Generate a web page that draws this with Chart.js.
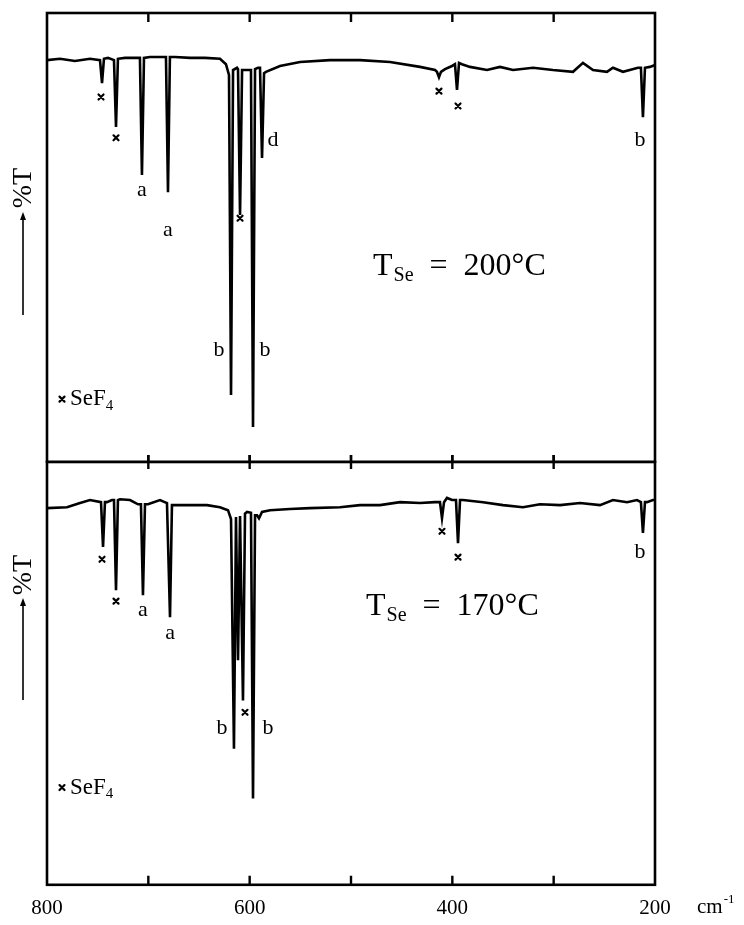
<!DOCTYPE html>
<html><head><meta charset="utf-8">
<script src="https://cdn.jsdelivr.net/npm/chart.js@4.4.1/dist/chart.umd.min.js"></script>
<style>
html,body{margin:0;padding:0;background:#fff;}
#wrap{position:relative;width:744px;height:925px;overflow:hidden;}
canvas{position:absolute;left:0;}
#c1{top:0;}
#c2{top:452px;}
</style></head><body>
<div id="wrap"><canvas id="c1" width="744" height="463"></canvas><canvas id="c2" width="744" height="480"></canvas></div>
<script>
// ---- data ----
const wavenumberTicks = [800, 700, 600, 500, 400, 300, 200];
const wavenumberLabels = ['800', '', '600', '', '400', '', '200'];

// Spectrum recorded with T(Se) = 200 °C (wavenumber cm-1, %T arbitrary scale)
const wn200 = [800.0,787.2,772.4,757.6,747.7,745.7,743.8,739.8,733.9,731.9,730.0,723.0,708.3,706.3,704.3,698.4,682.6,680.6,678.7,673.7,658.9,644.1,629.3,623.4,620.4,618.4,616.4,612.5,611.5,609.5,607.5,602.6,598.7,596.7,594.7,591.8,589.8,587.8,585.8,583.9,570.1,550.3,520.7,491.1,461.5,431.9,417.1,415.2,413.2,411.2,407.2,400.3,397.4,395.4,393.4,390.5,382.6,365.8,353.0,340.1,320.4,300.7,280.9,271.1,261.2,247.4,241.5,231.6,216.8,213.9,211.9,209.9,205.0,200.0];
const t200  = [89.5,89.8,89.3,89.8,89.5,84.4,89.8,90.0,89.5,74.6,89.8,90.0,90.0,63.9,90.0,90.2,90.2,60.1,90.2,90.2,90.0,90.0,89.8,88.6,86.2,14.9,87.3,87.8,87.5,55.0,87.3,87.3,87.3,7.8,87.5,87.8,87.8,67.7,86.6,86.9,88.2,89.1,89.5,89.5,89.1,88.0,87.3,86.9,85.7,86.9,87.5,88.2,88.6,82.9,88.9,88.6,88.0,87.3,88.0,87.3,87.8,87.3,86.9,88.9,87.3,86.9,87.8,86.9,87.8,87.8,76.8,87.8,88.0,88.4];

// Spectrum recorded with T(Se) = 170 °C
const wn170 = [800.0,780.3,767.4,757.6,746.7,744.7,742.8,740.8,735.9,733.9,731.9,730.0,728.0,718.1,710.2,707.3,705.3,703.3,700.3,688.5,681.6,678.6,676.7,675.7,661.9,642.1,629.3,621.4,618.4,615.5,613.5,611.5,609.5,608.6,606.6,604.6,602.6,598.7,596.7,594.7,592.7,590.8,587.8,579.9,560.2,540.5,510.9,491.1,471.4,451.6,431.9,417.1,412.2,410.2,408.2,405.3,400.3,396.4,394.4,392.4,389.5,369.7,350.0,330.3,313.5,293.7,274.0,254.3,241.5,227.6,217.8,213.9,211.9,209.9,207.9,202.0,200.0];
const t170  = [89.1,89.3,90.3,91.0,90.5,79.9,90.5,90.5,91.0,91.0,69.7,91.0,91.2,91.0,90.0,90.0,68.5,90.0,90.0,91.0,90.3,63.3,89.8,89.8,89.8,89.8,89.3,88.6,86.5,32.2,87.0,53.1,87.2,87.2,43.6,87.8,88.2,88.0,20.4,87.4,87.4,86.7,88.2,88.6,88.9,89.1,89.3,89.8,89.8,90.5,90.3,90.5,90.5,86.7,90.5,91.5,91.0,91.0,80.8,91.0,91.0,90.5,89.8,89.3,90.0,89.8,90.3,89.8,91.0,90.5,91.0,90.5,83.2,90.5,90.5,91.0,91.0];

// Band assignments: [wavenumber, %T, label]  ('x' = SeF4 band)
const marks200 = [[746.7,81.3,'x'],[731.9,72.2,'x'],[706.3,60.6,'a'],[680.6,51.7,'a'],[630.3,24.9,'b'],[609.5,54.3,'x'],[584.9,24.9,'b'],[577.0,71.7,'d'],[413.2,82.6,'x'],[394.4,79.3,'x'],[214.8,71.7,'b']];
const marks170 = [[745.7,77.0,'x'],[731.9,67.1,'x'],[705.3,64.9,'a'],[678.6,59.5,'a'],[627.3,37.0,'b'],[604.6,40.8,'x'],[581.9,37.0,'b'],[410.2,83.6,'x'],[394.4,77.5,'x'],[214.8,78.7,'b']];
const panelTemps = ['200', '170'];

// ---- drawing ----
const serif = '"Liberation Serif", "Times New Roman", serif';

function cross(ctx, cx, cy) {
  ctx.save();
  ctx.lineWidth = 2.2; ctx.lineCap = 'round';
  ctx.beginPath();
  ctx.moveTo(cx - 2.5, cy - 2.5); ctx.lineTo(cx + 2.5, cy + 2.5);
  ctx.moveTo(cx + 2.5, cy - 2.5); ctx.lineTo(cx - 2.5, cy + 2.5);
  ctx.stroke();
  ctx.restore();
}

const annotate = {
  id: 'annotate',
  afterDraw(chart, args, o) {
    const ctx = chart.ctx, a = chart.chartArea;
    const x = chart.scales.x, y = chart.scales.y;
    ctx.save();
    ctx.strokeStyle = '#000'; ctx.fillStyle = '#000';
    ctx.lineWidth = 2.6;
    ctx.strokeRect(a.left, a.top, a.right - a.left, a.bottom - a.top);
    ctx.lineWidth = 2.4;
    wavenumberTicks.slice(1, -1).forEach(v => {
      const px = x.getPixelForValue(v);
      ctx.beginPath();
      if (o.topTicks === 'in') { ctx.moveTo(px, a.top); ctx.lineTo(px, a.top + 9); }
      else { ctx.moveTo(px, a.top - 7); ctx.lineTo(px, a.top + 7); }
      if (o.bottomTicks === 'in') { ctx.moveTo(px, a.bottom); ctx.lineTo(px, a.bottom - 9); }
      else { ctx.moveTo(px, a.bottom - 7); ctx.lineTo(px, a.bottom + 7); }
      ctx.stroke();
    });
    // band labels
    ctx.textAlign = 'center'; ctx.textBaseline = 'middle';
    o.marks.forEach(([w, t, s]) => {
      const px = x.getPixelForValue(w), py = y.getPixelForValue(t);
      if (s === 'x') { cross(ctx, px, py); }
      else { ctx.font = '22px ' + serif; ctx.fillText(s, px, py); }
    });
    // title T_Se = ...°C
    let tx = x.getPixelForValue(o.title[0]), ty = y.getPixelForValue(o.title[1]);
    ctx.textAlign = 'left'; ctx.textBaseline = 'alphabetic';
    ctx.font = '32px ' + serif; ctx.fillText('T', tx, ty); tx += ctx.measureText('T').width + 1;
    ctx.font = '20px ' + serif; ctx.fillText('Se', tx, ty + 6); tx += ctx.measureText('Se').width;
    ctx.font = '32px ' + serif; ctx.fillText('  =  ' + o.temp + '°C', tx, ty);
    // legend × SeF4
    let lx = x.getPixelForValue(o.legend[0]), ly = y.getPixelForValue(o.legend[1]);
    cross(ctx, lx, ly);
    ctx.textBaseline = 'middle'; ctx.textAlign = 'left';
    ctx.font = '23px ' + serif; ctx.fillText('SeF', lx + 8, ly); lx += 8 + ctx.measureText('SeF').width;
    ctx.font = '15px ' + serif; ctx.fillText('4', lx, ly + 7);
    // %T with arrow
    const ax = a.left - 24;
    ctx.save();
    ctx.translate(ax + 1, a.top + o.pctT);
    ctx.rotate(-Math.PI / 2);
    ctx.textAlign = 'center'; ctx.textBaseline = 'middle';
    ctx.font = '28px ' + serif; ctx.fillText('%T', 0, 0);
    ctx.restore();
    ctx.lineWidth = 1.6;
    ctx.beginPath(); ctx.moveTo(ax, a.top + o.arrow[1]); ctx.lineTo(ax, a.top + o.arrow[0] + 5); ctx.stroke();
    ctx.beginPath(); ctx.moveTo(ax, a.top + o.arrow[0]); ctx.lineTo(ax - 3, a.top + o.arrow[0] + 8); ctx.lineTo(ax + 3, a.top + o.arrow[0] + 8); ctx.closePath(); ctx.fill();
    // unit label
    if (o.unit) {
      const uy = x.top + 11 + 12;
      ctx.textAlign = 'left'; ctx.textBaseline = 'middle';
      ctx.font = '21px ' + serif; ctx.fillText('cm', a.right + 42, uy);
      const w = ctx.measureText('cm').width;
      ctx.font = '13px ' + serif; ctx.fillText('-1', a.right + 43 + w, uy - 8);
    }
    ctx.restore();
  }
};

function makeChart(id, wn, tr, showAxis, pad, o) {
  return new Chart(document.getElementById(id), {
    type: 'line',
    data: { datasets: [{
      data: wn.map((w, i) => ({ x: w, y: tr[i] })),
      borderColor: '#000', borderWidth: 2.6, pointRadius: 0, tension: 0, fill: false
    }]},
    options: {
      responsive: false, animation: false, devicePixelRatio: 1,
      layout: { padding: pad },
      plugins: { legend: { display: false }, tooltip: { enabled: false }, annotate: o },
      scales: {
        x: {
          type: 'linear', min: 200, max: 800, reverse: true, display: showAxis,
          afterBuildTicks: s => { s.ticks = wavenumberTicks.map(v => ({ value: v })); },
          grid: { display: false, drawTicks: false }, border: { display: false },
          ticks: { padding: 11, maxRotation: 0, autoSkip: false, color: '#000',
            font: { family: serif, size: 21 },
            callback: v => wavenumberLabels[wavenumberTicks.indexOf(v)] }
        },
        y: { type: 'linear', min: 0, max: 100, display: false }
      }
    },
    plugins: [annotate]
  });
}

makeChart('c1', wn200, t200, false, { left: 47, right: 89, top: 13, bottom: 1 }, {
  marks: marks200, temp: panelTemps[0], title: [478.3, 41.6], legend: [785.2, 14.0],
  topTicks: 'in', bottomTicks: 'both', pctT: 175, arrow: [199, 302], unit: false
});
makeChart('c2', wn170, t170, true, { left: 47, right: 89, top: 10, bottom: 0 }, {
  marks: marks170, temp: panelTemps[1], title: [485.2, 63.7], legend: [785.2, 23.0],
  topTicks: 'both', bottomTicks: 'in', pctT: 113, arrow: [136, 238], unit: true
});
</script>
</body></html>
